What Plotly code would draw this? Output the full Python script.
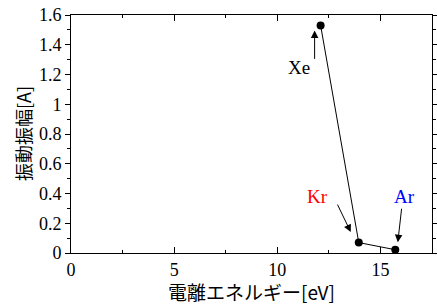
import plotly.graph_objects as go

gases = ["Xe", "Kr", "Ar"]
energy = [12.1, 13.95, 15.72]
amplitude = [1.53, 0.07, 0.022]
gas_colors = ["black", "red", "blue"]
x_title = "電離エネルギー[eV]"
y_title = "振動振幅[A]"

fig = go.Figure()
fig.add_trace(go.Scatter(x=energy, y=amplitude, mode="lines+markers",
                         line=dict(color="black", width=1),
                         marker=dict(color="black", size=8), showlegend=False,
                         hoverinfo="skip"))

serif = "Liberation Serif"
jp = "Noto Sans CJK JP"

# arrow tip shift (px, up positive) and tail offset from tip (px, down positive)
tip_shift = [(-6, -5), (-8, 10.5), (2.5, 7.5)]
tail_off = [(0, 30), (-14, -29), (4, -35)]
label_shift = [(-22, -42), (-41, 46), (9, 53)]
for g, x, y, c, (sx, sy), (ax, ay), (lx, ly) in zip(gases, energy, amplitude, gas_colors,
                                                     tip_shift, tail_off, label_shift):
    fig.add_annotation(x=x, y=y, xshift=sx, yshift=sy, ax=ax, ay=ay,
                       xref="x", yref="y", axref="pixel", ayref="pixel",
                       text="", showarrow=True, arrowhead=2, arrowsize=1.5, arrowwidth=1,
                       arrowcolor="black", standoff=0)
    fig.add_annotation(x=x, y=y, xshift=lx, yshift=ly, text=g, showarrow=False,
                       font=dict(family=serif, size=19, color=c))

# axis titles
fig.add_annotation(x=0.5, y=-0.16, xref="paper", yref="paper", text=x_title, showarrow=False,
                   xanchor="center", yanchor="middle",
                   font=dict(family=jp, size=19, color="black"))
fig.add_annotation(x=-0.133, y=0.504, xref="paper", yref="paper", text=y_title, showarrow=False,
                   textangle=-90, xanchor="center", yanchor="middle",
                   font=dict(family=jp, size=18, color="black"))

fig.update_xaxes(range=[0, 17.5], tickvals=[0, 5, 10, 15], ticks="inside", ticklen=6,
                 minor=dict(dtick=2.5, ticks="inside", ticklen=3, tickcolor="black"),
                 showline=True, linecolor="black", linewidth=1, mirror="ticks",
                 showgrid=False, zeroline=False, tickcolor="black", automargin=False,
                 tickfont=dict(family=serif, size=18, color="black"))
fig.update_yaxes(range=[0, 1.6], dtick=0.2, ticks="outside", ticklen=5,
                 minor=dict(dtick=0.1, ticks="outside", ticklen=3, tickcolor="black"),
                 showline=True, linecolor="black", linewidth=1, mirror="ticks",
                 showgrid=False, zeroline=False, tickcolor="black", automargin=False,
                 tickfont=dict(family=serif, size=18, color="black"))

fig.update_layout(width=437, height=304, margin=dict(l=71, r=5, t=15, b=51),
                  plot_bgcolor="white", paper_bgcolor="white")
fig.write_html("out.html", config={"displayModeBar": False},
               post_script="document.body.style.margin='0';")
